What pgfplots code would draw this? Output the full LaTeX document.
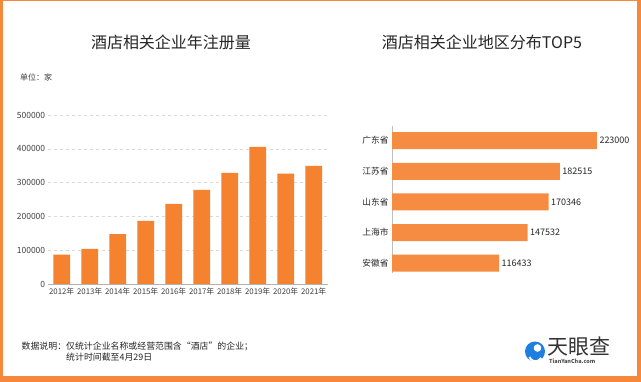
\documentclass[border=0pt]{standalone}
\usepackage{fontspec}
\setmainfont{Noto Sans CJK SC}
\usepackage{pgfplots}
\pgfplotsset{compat=1.18}
\definecolor{frameC}{HTML}{F5883B}
\definecolor{barL}{HTML}{F5822F}
\definecolor{barR}{HTML}{F68C42}
\definecolor{txt}{HTML}{262626}
\definecolor{lbl}{HTML}{404040}
\definecolor{logoB}{HTML}{1F7FE0}
\begin{document}
\begin{tikzpicture}[x=1pt,y=1pt]
\path[use as bounding box] (0,0) rectangle (641,382);
\fill[frameC] (0,0) rectangle (641,382);
\fill[white] (3,6) rectangle (637,381);
% titles
\node[text=txt, font=\fontsize{16}{18}\selectfont] at (171,340) {酒店相关企业年注册量};
\node[text=txt, font=\fontsize{16}{18}\selectfont] at (482,340) {酒店相关企业地区分布TOP5};
\node[anchor=west, text=lbl, font=\fontsize{8}{9}\selectfont, inner sep=0] at (20,305) {单位：家};
% left chart
\begin{axis}[at={(47.7pt,98pt)}, anchor=south west, scale only axis,
  width=280pt, height=169pt,
  xmin=-0.5, xmax=9.5, ymin=0, ymax=500000,
  axis lines*=left, y axis line style={draw=none}, x axis line style={black!30},
  major tick length=0,
  ytick={0,100000,200000,300000,400000,500000},
  scaled y ticks=false,
  ymajorgrids, grid style={dashed, black!15},
  xtick={0,...,9},
  xticklabels={2012年,2013年,2014年,2015年,2016年,2017年,2018年,2019年,2020年,2021年},
  /pgf/number format/fixed, /pgf/number format/1000 sep={},
  /pgf/number format/assume math mode=true,
  yticklabel style={font=\fontsize{8.5}{10}\selectfont, text=lbl, xshift=1pt},
  xticklabel style={font=\fontsize{7.8}{10}\selectfont, text=lbl},
  clip=false]
\addplot[ybar, bar width=16.7pt, fill=barL, draw=none] coordinates {
(0,86600) (1,104000) (2,147600) (3,187000) (4,237000)
(5,278500) (6,328700) (7,405500) (8,326800) (9,349400)};
\end{axis}
% right chart
\begin{axis}[at={(392pt,108.7pt)}, anchor=south west, scale only axis,
  width=220.6pt, height=147.7pt,
  xmin=0, xmax=240000, ymin=-0.33, ymax=4.49,
  axis lines*=left, x axis line style={draw=none}, y axis line style={black!25},
  major tick length=0, xtick=\empty,
  ytick={0,...,4},
  yticklabels={安徽省,上海市,山东省,江苏省,广东省},
  yticklabel style={font=\fontsize{8.7}{10}\selectfont, text=txt},
  /pgf/number format/fixed, /pgf/number format/1000 sep={},
  /pgf/number format/assume math mode=true,
  nodes near coords, point meta=x,
  every node near coord/.append style={font=\fontsize{9}{10}\selectfont, text=txt, anchor=west, xshift=-1pt},
  clip=false]
\addplot[xbar, bar width=17pt, fill=barR, draw=none] coordinates {
(116433,0) (147532,1) (170346,2) (182515,3) (223000,4)};
\end{axis}
% footer
\node[anchor=west, text=txt, font=\fontsize{8.9}{10}\selectfont, inner sep=0] at (21.5,36) {数据说明：仅统计企业名称或经营范围含“酒店”的企业；};
\node[anchor=west, text=txt, font=\fontsize{8.9}{10}\selectfont, inner sep=0] at (66,25) {统计时间截至4月29日};
% logo
\fill[logoB] (535,30.5) circle (10);
\draw[white, line width=2pt] (529.5,25) arc (200:330:6.5);
\fill[white] (537.5,34) circle (3.8);
\node[anchor=west, text=black!80, font=\fontsize{21}{22}\selectfont, inner sep=0] at (547,35) {天眼查};
\node[anchor=west, text=black!70, font=\fontsize{5.5}{6}\selectfont\bfseries, inner sep=0] at (549,21) {TianYanCha.com};
\end{tikzpicture}
\end{document}
